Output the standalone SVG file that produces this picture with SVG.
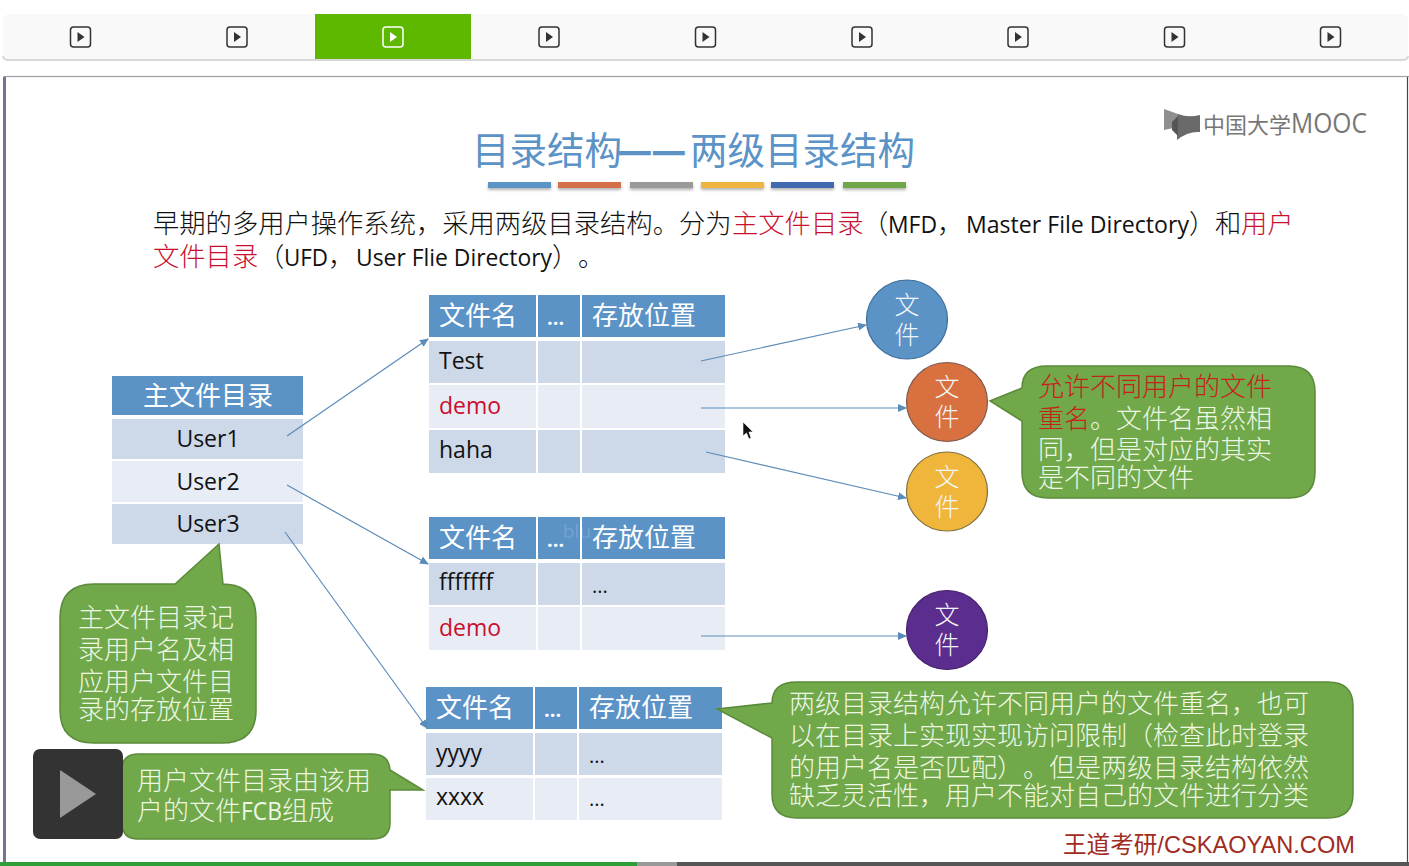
<svg xmlns="http://www.w3.org/2000/svg" width="1409" height="866" viewBox="0 0 1409 866">
<style>
text{font-family:"Open Sans","Noto Sans","Noto Sans CJK SC",sans-serif;text-spacing-trim:space-all}
.cn{font-family:"Noto Sans CJK SC",sans-serif}
.hd{fill:#5b93c7}.a{fill:#cdd8e9}.b{fill:#e8edf5}
.ht{fill:#fff;font-size:26px;font-family:"Noto Sans CJK SC",sans-serif;font-weight:400}
.dt{fill:#fff;font-size:20px;font-weight:700}
.ct{fill:#111;font-size:23px}
.rd{fill:#c8102e;font-size:23px}
.co{fill:#f2f6fa;font-size:25px;font-family:"Noto Sans CJK SC",sans-serif;font-weight:300;text-anchor:middle}
.body{fill:#111;font-size:26.3px;font-family:"Noto Sans CJK SC",sans-serif;font-weight:300}
.lat{font-family:"Open Sans",sans-serif;font-size:23px;font-weight:400}
.red{fill:#c8102e}
.bub{fill:#70a84a;stroke:#5b8a3a;stroke-width:1.5}
.bt{fill:#eef7e4;font-size:26px;font-family:"Noto Sans CJK SC",sans-serif;font-weight:300}
.ln{stroke:#5b8bb8;stroke-width:1.2;fill:none;marker-end:url(#ah)}
.ic{fill:none;stroke:#333;stroke-width:1.5}
.bar{filter:url(#sh)}
</style>
<defs>
<marker id="ah" markerWidth="9" markerHeight="8" refX="8" refY="4" orient="auto" markerUnits="userSpaceOnUse"><path d="M0 0L9 4L0 8Z" fill="#5b8bb8"/></marker>
<filter id="sh" x="-10%" y="-50%" width="120%" height="250%"><feDropShadow dx="0" dy="2" stdDeviation="1.5" flood-color="#000" flood-opacity=".3"/></filter>
<g id="pi"><rect x="-10" y="-10" width="20" height="20" rx="3" class="ic"/><path d="M-3 -5L4 0L-3 5Z" fill="#333"/></g>
<g id="piw"><rect x="-10" y="-10" width="20" height="20" rx="3" fill="none" stroke="#fff" stroke-width="1.500"/><path d="M-3 -5L4 0L-3 5Z" fill="#fff"/></g>
</defs>
<rect width="1409" height="866" fill="#fff"/>
<g id="tabs">
<rect x="3" y="14" width="1405" height="46" rx="6" fill="#f9f9f9"/>
<path d="M3 56Q3 60 9 60H1402Q1408 60 1408 56" fill="none" stroke="#d8d8d8" stroke-width="2"/>
<rect x="315" y="14" width="156" height="45" fill="#5fb800"/>
<use href="#pi" x="80.500" y="37"/><use href="#pi" x="237" y="37"/><use href="#piw" x="393" y="37"/><use href="#pi" x="549" y="37"/><use href="#pi" x="705.500" y="37"/><use href="#pi" x="862" y="37"/><use href="#pi" x="1018" y="37"/><use href="#pi" x="1174.500" y="37"/><use href="#pi" x="1330.500" y="37"/>
</g>
<g id="frame">
<rect x="4" y="76.500" width="1517" height="800" fill="none" stroke="#a0a0a8" stroke-width="1.200"/>
<rect x="3" y="77" width="3" height="785" fill="#6f7690"/>
<line x1="1407.500" y1="77" x2="1407.500" y2="862" stroke="#444" stroke-width="1.200"/>
</g>
<text id="title" y="164" font-size="37.500" fill="#5b93c7" class="cn"><tspan x="472">目录结构</tspan><tspan x="618" stroke="#5b93c7" stroke-width="1.800">—</tspan><tspan x="652" stroke="#5b93c7" stroke-width="1.800">—</tspan><tspan x="690">两级目录结构</tspan></text>
<g id="bars">
<rect class="bar" x="488" y="182" width="63" height="6" fill="#5b93c7"/>
<rect class="bar" x="558" y="182" width="63" height="6" fill="#d4704a"/>
<rect class="bar" x="630" y="182" width="63" height="6" fill="#9a9a9a"/>
<rect class="bar" x="701" y="182" width="63" height="6" fill="#f0b440"/>
<rect class="bar" x="771" y="182" width="63" height="6" fill="#4169b0"/>
<rect class="bar" x="843" y="182" width="63" height="6" fill="#70a84a"/>
</g>
<g id="logo">
<path d="M1164 109L1178 114V127L1164 130Z" fill="#8f8f8f"/><path d="M1178 114Q1188 118 1200 115V132Q1188 131 1177 140V130Z" fill="#6a6a6a"/><path d="M1172 122L1178 116V136L1172 130Z" fill="#555"/>
<text x="1203" y="133" font-size="22" fill="#777" class="cn" font-weight="400">中国大学<tspan x="1291" font-size="27" font-family="Open Sans" textLength="76" lengthAdjust="spacingAndGlyphs">MOOC</tspan></text>
</g>
<g id="intro">
<text y="233" class="body"><tspan x="153">早期的多用户操作系统，采用两级目录结构。分为</tspan><tspan x="732" class="red">主文件目录</tspan><tspan x="862">（</tspan><tspan x="888" class="lat" textLength="49" lengthAdjust="spacingAndGlyphs">MFD</tspan><tspan x="937">，</tspan><tspan x="966" class="lat" textLength="223" lengthAdjust="spacingAndGlyphs">Master File Directory</tspan><tspan x="1189">）</tspan><tspan x="1215">和</tspan><tspan x="1241" class="red">用户</tspan></text>
<text y="266" class="body"><tspan x="153" class="red">文件目录</tspan><tspan x="258">（</tspan><tspan x="284" class="lat" textLength="44" lengthAdjust="spacingAndGlyphs">UFD</tspan><tspan x="328">，</tspan><tspan x="356" class="lat" textLength="196" lengthAdjust="spacingAndGlyphs">User Flie Directory</tspan><tspan x="552">）</tspan><tspan x="578">。</tspan></text>
</g>
<g id="master-dir">
<rect class="hd" x="112" y="376" width="191" height="39"/>
<rect class="a" x="112" y="419" width="191" height="40"/>
<rect class="b" x="112" y="461" width="191" height="41"/>
<rect class="a" x="112" y="504" width="191" height="40"/>
<text class="ht" x="208" y="405" text-anchor="middle">主文件目录</text>
<text class="ct" x="208" y="447" text-anchor="middle">User1</text>
<text class="ct" x="208" y="490" text-anchor="middle">User2</text>
<text class="ct" x="208" y="532" text-anchor="middle">User3</text>
</g>
<g id="ufd-1">
<rect class="hd" x="429" y="295" width="107" height="42"/><rect class="hd" x="538" y="295" width="42" height="42"/><rect class="hd" x="582" y="295" width="143" height="42"/>
<rect class="a" x="429" y="341" width="107" height="42"/><rect class="a" x="538" y="341" width="42" height="42"/><rect class="a" x="582" y="341" width="143" height="42"/>
<rect class="b" x="429" y="385" width="107" height="43"/><rect class="b" x="538" y="385" width="42" height="43"/><rect class="b" x="582" y="385" width="143" height="43"/>
<rect class="a" x="429" y="430" width="107" height="43"/><rect class="a" x="538" y="430" width="42" height="43"/><rect class="a" x="582" y="430" width="143" height="43"/>
<text class="ht" x="439" y="325">文件名</text><text class="dt" x="547" y="325">...</text><text class="ht" x="592" y="325">存放位置</text>
<text class="ct" x="439" y="369">Test</text><text class="rd" x="439" y="414">demo</text><text class="ct" x="439" y="458">haha</text>
</g>
<g id="ufd-2">
<rect class="hd" x="429" y="517" width="107" height="42"/><rect class="hd" x="538" y="517" width="42" height="42"/><rect class="hd" x="582" y="517" width="143" height="42"/>
<rect class="a" x="429" y="563" width="107" height="42"/><rect class="a" x="538" y="563" width="42" height="42"/><rect class="a" x="582" y="563" width="143" height="42"/>
<rect class="b" x="429" y="607" width="107" height="43"/><rect class="b" x="538" y="607" width="42" height="43"/><rect class="b" x="582" y="607" width="143" height="43"/>
<text x="563" y="538" font-size="19" fill="#fff" opacity=".14">blu</text>
<text class="ht" x="439" y="547">文件名</text><text class="dt" x="547" y="547">...</text><text class="ht" x="592" y="547">存放位置</text>
<text class="ct" x="439" y="590">fffffff</text><text class="ct" x="592" y="593" style="font-size:20px">...</text><text class="rd" x="439" y="636">demo</text>
</g>
<g id="ufd-3">
<rect class="hd" x="426" y="687" width="107" height="42"/><rect class="hd" x="535" y="687" width="42" height="42"/><rect class="hd" x="579" y="687" width="143" height="42"/>
<rect class="a" x="426" y="733" width="107" height="42"/><rect class="a" x="535" y="733" width="42" height="42"/><rect class="a" x="579" y="733" width="143" height="42"/>
<rect class="b" x="426" y="778" width="107" height="42"/><rect class="b" x="535" y="778" width="42" height="42"/><rect class="b" x="579" y="778" width="143" height="42"/>
<text class="ht" x="436" y="717">文件名</text><text class="dt" x="544" y="717">...</text><text class="ht" x="589" y="717">存放位置</text>
<text class="ct" x="436" y="761">yyyy</text><text class="ct" x="589" y="763" style="font-size:20px">...</text><text class="ct" x="436" y="805">xxxx</text><text class="ct" x="589" y="806" style="font-size:20px">...</text>
</g>
<g id="connectors">
<line class="ln" x1="287" y1="436" x2="428" y2="339"/>
<line class="ln" x1="287" y1="485" x2="428" y2="564"/>
<line class="ln" x1="285" y1="532" x2="427" y2="728"/>
<line class="ln" x1="701" y1="361" x2="866" y2="325"/>
<line class="ln" x1="701" y1="408" x2="906" y2="408"/>
<line class="ln" x1="706" y1="452" x2="906" y2="498"/>
<line class="ln" x1="701" y1="636" x2="906" y2="636"/>
</g>
<g id="file-1"><ellipse cx="907" cy="319.500" rx="40.500" ry="39.500" fill="#5b93c7" stroke="#3d6d99" stroke-width="1.200"/><text class="co" x="907" y="314">文</text><text class="co" x="907" y="344">件</text></g>
<g id="file-2"><ellipse cx="947" cy="402" rx="40.500" ry="39.500" fill="#d9703f" stroke="#7a5a50" stroke-width="1.200"/><text class="co" x="947" y="396">文</text><text class="co" x="947" y="426">件</text></g>
<g id="file-3"><ellipse cx="947" cy="491.500" rx="40.500" ry="39.500" fill="#f0b63c" stroke="#7f7040" stroke-width="1.200"/><text class="co" x="947" y="486">文</text><text class="co" x="947" y="516">件</text></g>
<g id="file-4"><ellipse cx="947" cy="630" rx="40.500" ry="39.500" fill="#5b2d8e" stroke="#42206a" stroke-width="1.200"/><text class="co" x="947" y="624">文</text><text class="co" x="947" y="654">件</text></g>
<g id="note-rename">
<path class="bub" d="M1047 366H1289Q1315 366 1315 392V472Q1315 498 1289 498H1048Q1022 498 1022 472V421L990 401L1022 388Q1022 366 1047 366Z"/>
<text class="bt" x="1038" y="396" style="fill:#c8201a">允许不同用户的文件</text>
<text class="bt" x="1038" y="428"><tspan style="fill:#c8201a">重名</tspan>。文件名虽然相</text>
<text class="bt" x="1038" y="459">同，但是对应的其实</text>
<text class="bt" x="1038" y="487">是不同的文件</text>
</g>
<g id="note-master">
<path class="bub" d="M175 584L219 544L223 584H222Q256 584 256 618V710Q256 743 222 743H94Q60 743 60 710V618Q60 584 94 584Z"/>
<text class="bt" x="78" y="627">主文件目录记</text>
<text class="bt" x="78" y="659">录用户名及相</text>
<text class="bt" x="78" y="691">应用户文件目</text>
<text class="bt" x="78" y="719">录的存放位置</text>
</g>
<g id="note-ufd">
<path class="bub" d="M138 754H372Q389 754 390 770L423 790H390V823Q390 839 372 839H138Q122 839 122 823V770Q122 754 138 754Z"/>
<text class="bt" x="137" y="790">用户文件目录由该用</text>
<text class="bt" y="820"><tspan x="137">户的文件</tspan><tspan x="241" class="lat" textLength="41" lengthAdjust="spacingAndGlyphs" style="font-size:25px">FCB</tspan><tspan x="282">组成</tspan></text>
</g>
<g id="note-summary">
<path class="bub" d="M797 682H1328Q1353 682 1353 706V794Q1353 818 1328 818H797Q772 818 772 794V738L717 709L772 703Q772 682 797 682Z"/>
<text class="bt" x="789" y="713">两级目录结构允许不同用户的文件重名，也可</text>
<text class="bt" x="789" y="745">以在目录上实现实现访问限制（检查此时登录</text>
<text class="bt" x="789" y="777">的用户名是否匹配）。但是两级目录结构依然</text>
<text class="bt" x="789" y="805">缺乏灵活性，用户不能对自己的文件进行分类</text>
</g>
<g id="player">
<rect x="33" y="749" width="90" height="90" rx="7" fill="#333"/>
<path d="M60 770L96 794L60 818Z" fill="#999"/>
</g>
<path id="cursor" d="M743 422V436L746.500 433L749 439L751 438L749 432L753 432Z" fill="#111" stroke="#fff" stroke-width=".6"/>
<text id="brand" x="1063" y="853" style="font-family:'Liberation Sans','Noto Sans CJK SC',sans-serif;font-size:23.600px" fill="#a02c22">王道考研/CSKAOYAN.COM</text>
<g id="progress">
<rect x="0" y="862" width="1409" height="4" fill="#555"/>
<rect x="0" y="862" width="637" height="4" fill="#2e9e3a"/>
<rect x="637" y="862" width="40" height="4" fill="#999"/>
</g>
</svg>
